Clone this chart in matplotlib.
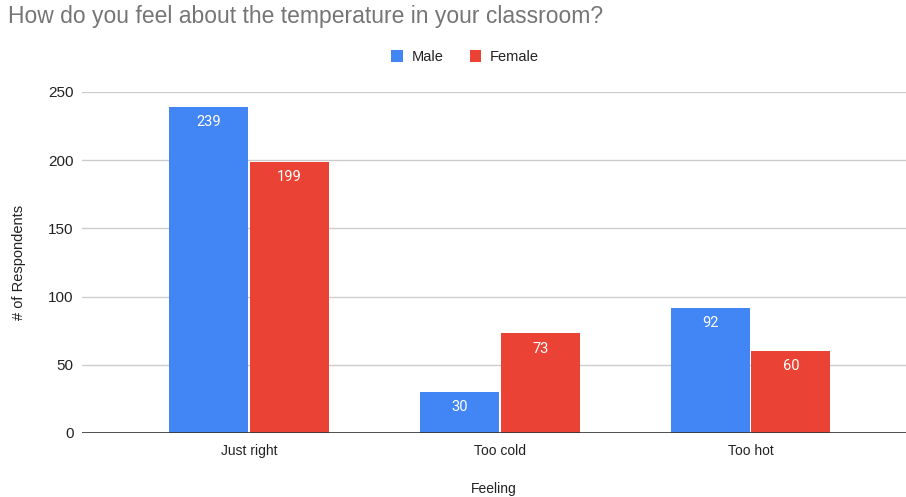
import matplotlib
matplotlib.use('Agg')
import matplotlib.pyplot as plt
import numpy as np

# chart data
categories = ['Just right', 'Too cold', 'Too hot']
male = [239, 30, 92]
female = [199, 73, 60]
series_names = ['Male', 'Female']
y_ticks = [0, 50, 100, 150, 200, 250]

BLUE = '#4285F4'
RED = '#EA4335'

plt.rcParams['font.family'] = ['Liberation Sans', 'DejaVu Sans']

fig = plt.figure(figsize=(9.06, 4.97), dpi=100)
ax = fig.add_axes([82 / 906, (497 - 433) / 497, 1 - 82 / 906, (433 - 92) / 497])

x = np.arange(len(categories))
w = 0.315
off = 0.161
b1 = ax.bar(x - off, male, w, color=BLUE, label=series_names[0], zorder=3)
b2 = ax.bar(x + off, female, w, color=RED, label=series_names[1], zorder=3)

# value labels inside the top of each bar
for bars in (b1, b2):
    for r in bars:
        ax.annotate(str(int(r.get_height())), (r.get_x() + r.get_width() / 2, r.get_height()),
                    xytext=(0, -6), textcoords='offset points', ha='center', va='top',
                    color='white', fontsize=10.5, family=['Roboto', 'DejaVu Sans'], zorder=4)

ax.set_xlim(-0.667, 2.62)
ax.set_ylim(0, 250)
ax.set_yticks(y_ticks)
ax.set_xticks(x)
ax.set_xticklabels(categories)
ax.tick_params(axis='both', length=0, labelsize=10, colors='#222222')
ax.tick_params(axis='y', pad=6, labelsize=11)
ax.tick_params(axis='x', pad=8)
ax.grid(axis='y', color='#cccccc', linewidth=1, zorder=0)
ax.axhline(0, color='#333333', linewidth=1.2, zorder=4)
for s in ax.spines.values():
    s.set_visible(False)

ax.set_ylabel('# of Respondents', fontsize=10.5, color='#222222', labelpad=16)
ax.set_xlabel('Feeling', fontsize=10, color='#222222', labelpad=17)

fig.text(8 / 906, 1 - 16 / 497, 'How do you feel about the temperature in your classroom?',
         fontsize=16.5, color='#757575', va='center', ha='left')

leg = fig.legend(handles=[b1, b2], labels=series_names, loc='center', bbox_to_anchor=(465 / 906, 1 - 57 / 497),
                 ncol=2, frameon=False, fontsize=10.5, handlelength=0.8, handleheight=0.8,
                 handletextpad=0.6, columnspacing=1.8)
for t in leg.get_texts():
    t.set_color('#222222')

fig.savefig('out.png', dpi=100)
